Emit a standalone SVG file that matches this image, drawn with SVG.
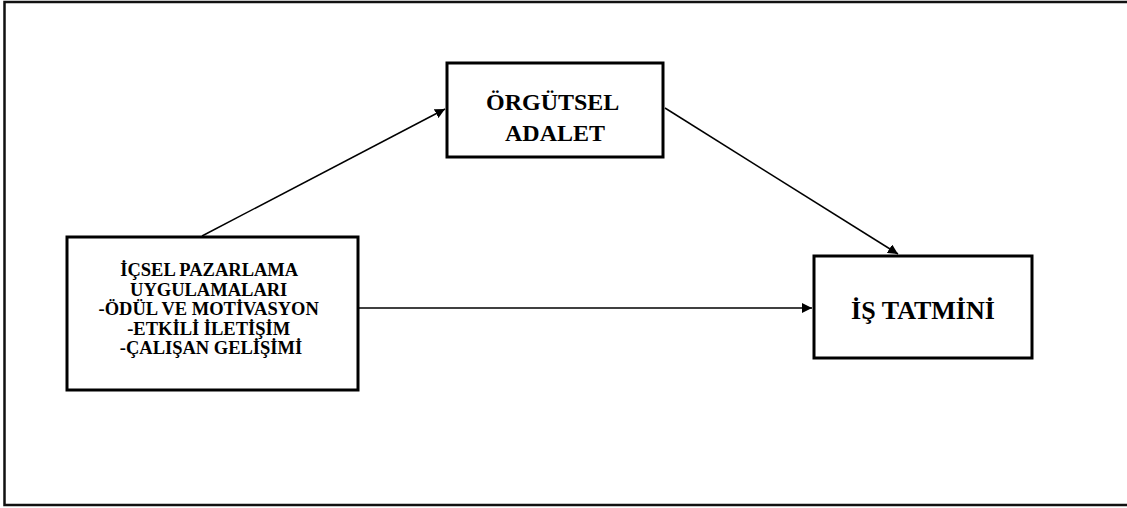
<svg xmlns="http://www.w3.org/2000/svg" width="1127" height="508" viewBox="0 0 1127 508">
  <style>
    .box { fill: #ffffff; stroke: #000000; stroke-width: 3; }
    .frame { fill: none; stroke: #111111; stroke-width: 2.5; }
    .lbl { font-weight: bold; fill: #000000; text-anchor: middle; }
    .edge { stroke: #000000; stroke-width: 1.5; fill: none; marker-end: url(#arrow); }
  </style>
  <defs>
    <marker id="arrow" viewBox="0 0 10 10" refX="10" refY="5" markerWidth="10" markerHeight="10" markerUnits="userSpaceOnUse" orient="auto">
      <path d="M0,0 L10,5 L0,10 z" fill="#000000"/>
    </marker>
  </defs>

  <rect width="1127" height="508" fill="#ffffff"/>
  <!-- outer frame: top, left and bottom edges -->
  <path class="frame" d="M1127,2 L4.5,2 L4.5,505 L1127,505"/>

  <g id="connectors">
    <line class="edge" x1="202" y1="236" x2="445" y2="109"/>
    <line class="edge" x1="665" y1="108" x2="898" y2="254"/>
    <line class="edge" x1="359" y1="308" x2="812" y2="308"/>
  </g>

  <g id="node-icsel">
    <rect class="box" x="67" y="237" width="291" height="153"/>
    <text class="lbl" font-family="'Liberation Serif', 'DejaVu Serif', serif" font-size="18.5">
      <tspan x="211" y="276">İÇSEL PAZARLAMA</tspan>
      <tspan x="211" y="295.5">UYGULAMALARI</tspan>
      <tspan x="211" y="315">-ÖDÜL VE MOTİVASYON</tspan>
      <tspan x="211" y="334.5">-ETKİLİ İLETİŞİM</tspan>
      <tspan x="211" y="354">-ÇALIŞAN GELİŞİMİ</tspan>
    </text>
  </g>

  <g id="node-adalet">
    <rect class="box" x="447" y="63" width="216" height="94"/>
    <text class="lbl" font-family="'Liberation Serif', 'DejaVu Serif', serif" font-size="24">
      <tspan x="555" y="110">ÖRGÜTSEL</tspan>
      <tspan x="555" y="141">ADALET</tspan>
    </text>
  </g>

  <g id="node-tatmin">
    <rect class="box" x="814" y="256" width="218" height="102"/>
    <text class="lbl" font-family="'Liberation Serif', 'DejaVu Serif', serif" font-size="26" x="923" y="319">İŞ TATMİNİ</text>
  </g>
</svg>
